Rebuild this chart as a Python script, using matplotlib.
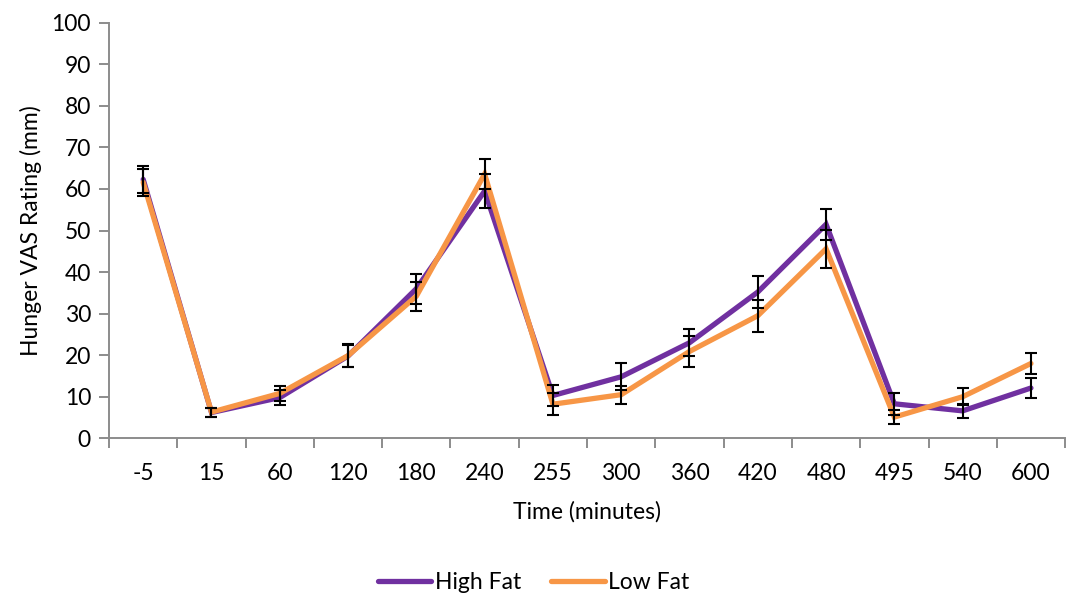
"""Hunger VAS rating over time, high fat vs low fat meal."""
import matplotlib
matplotlib.use('Agg')
import matplotlib.pyplot as plt
import numpy as np

plt.rcParams['font.family'] = ['Lato', 'DejaVu Sans']

times = ['-5', '15', '60', '120', '180', '240', '255', '300', '360', '420', '480', '495', '540', '600']
high_fat = [62.3, 6.2, 9.8, 19.8, 36.0, 59.5, 10.3, 14.8, 23.0, 35.2, 51.5, 8.3, 6.6, 12.1]
high_fat_err = [3.3, 1.0, 1.9, 2.7, 3.6, 4.0, 2.5, 3.2, 3.2, 3.9, 3.8, 2.7, 1.6, 2.5]
low_fat = [61.6, 6.3, 10.8, 19.9, 34.2, 63.6, 8.2, 10.5, 20.9, 29.5, 45.6, 5.1, 10.0, 18.0]
low_fat_err = [3.3, 1.1, 1.9, 2.7, 3.5, 3.5, 2.6, 2.2, 3.7, 3.9, 4.5, 1.7, 2.0, 2.6]

PURPLE = '#7030A0'
ORANGE = '#F79646'
AXIS_GREY = '#8C8C8C'


def main():
    fig = plt.figure(figsize=(10.67, 5.99), dpi=100)
    ax = fig.add_axes([0.1022, 0.2683, 0.8960, 0.6937])

    x = np.arange(len(times))
    for vals, errs, color, label in [(high_fat, high_fat_err, PURPLE, 'High Fat'),
                                     (low_fat, low_fat_err, ORANGE, 'Low Fat')]:
        ax.plot(x, vals, color=color, linewidth=3.8, solid_joinstyle='miter',
                solid_capstyle='round', label=label, zorder=3)
        ax.errorbar(x, vals, yerr=errs, fmt='none', ecolor='black',
                    elinewidth=1.5, capsize=4.3, capthick=1.5, zorder=4)

    ax.set_xlim(-0.5, len(times) - 0.5)
    ax.set_ylim(0, 100)
    ax.set_yticks(np.arange(0, 101, 10))
    ax.set_xticks(x)
    ax.set_xticklabels(times)
    ax.set_xticks(np.arange(-0.5, len(times), 1.0), minor=True)

    for side in ['top', 'right']:
        ax.spines[side].set_visible(False)
    for side in ['left', 'bottom']:
        ax.spines[side].set_color(AXIS_GREY)
        ax.spines[side].set_linewidth(1.4)

    ax.tick_params(axis='y', length=7, width=1.4, color=AXIS_GREY, labelsize=16.5, pad=6)
    ax.tick_params(axis='x', which='major', length=0, labelsize=16.5, pad=18)
    ax.tick_params(axis='x', which='minor', length=7, width=1.4, color=AXIS_GREY)

    ax.set_xlabel('Time (minutes)', fontsize=16.5, labelpad=12)
    ax.set_ylabel('Hunger VAS Rating (mm)', fontsize=16.5, labelpad=7)

    fig.legend(loc='lower center', bbox_to_anchor=(0.5, -0.025), ncol=2, frameon=False,
               fontsize=16.5, handlelength=2.35, handletextpad=0.15, columnspacing=1.3)

    fig.savefig('out.png', dpi=100)


if __name__ == '__main__':
    main()
